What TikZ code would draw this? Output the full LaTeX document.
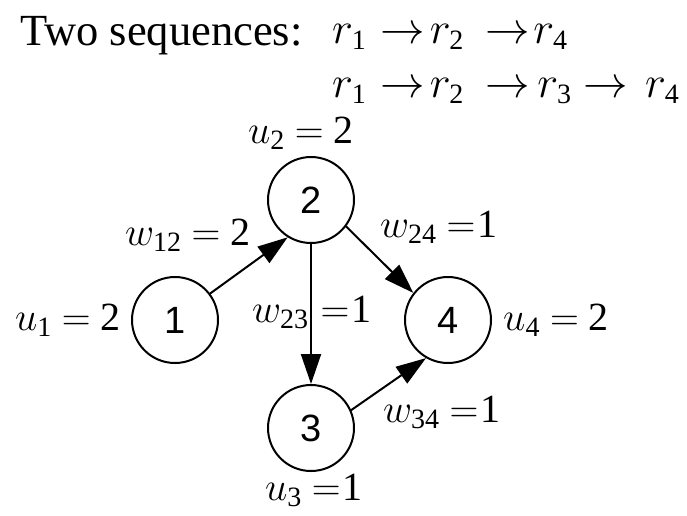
\RequirePackage{fix-cm}
\documentclass[tikz,border=0pt]{standalone}
\usepackage{fontspec}
\setmainfont{Liberation Serif}
\newfontfamily\digitfont{Liberation Sans}
\usetikzlibrary{arrows.meta}
\newcommand{\isub}[2]{$#1_{\mbox{\fontsize{28}{30}\selectfont #2}}$}

\begin{document}
\begin{tikzpicture}[x=1pt,y=-1pt,>={Triangle[length=30pt,width=20pt]},line cap=round,
  vertex/.style={draw,circle,line width=2pt,minimum size=86pt,inner sep=0pt,
    font=\digitfont\fontsize{38}{42}\selectfont},
  lbl/.style={anchor=base west,inner sep=0pt,font=\fontsize{40}{44}\selectfont},
  head/.style={anchor=base west,inner sep=0pt,font=\fontsize{44.5}{50}\selectfont},
  edge/.style={->,line width=2pt}]
\useasboundingbox (0,0) rectangle (687,515);
% the two sequences
\node[head] (title) at (20,45) {Two sequences:};
\node[head] (seqa) at (332,43) {\isub{r}{1}\hspace{14pt}$\rightarrow$\hspace{5pt}\isub{r}{2}\hspace{22pt}$\rightarrow$\hspace{3pt}\isub{r}{4}};
\node[head] (seqb) at (332,97) {\isub{r}{1}\hspace{14pt}$\rightarrow$\hspace{5pt}\isub{r}{2}\hspace{22pt}$\rightarrow$\hspace{7pt}\isub{r}{3}\hspace{12pt}$\rightarrow$\hspace{17pt}\isub{r}{4}};
% graph
\node[vertex] (n1) at (175,320) {1};
\node[vertex] (n2) at (311,200) {2};
\node[vertex] (n3) at (311,428) {3};
\node[vertex] (n4) at (448,320) {4};
\draw[edge] (n1.37) -- (n2.238);
\draw[edge] (n2.-37) -- (n4.142);
\draw[edge] (n2) -- (n3);
\draw[edge] (n3.24) -- (n4.240);
% weights
\node[lbl] (u1) at (15,330) {\isub{u}{1} $=$ 2};
\node[lbl] (u2) at (248,143) {\isub{u}{2} $=$ 2};
\node[lbl] (u3) at (265,500) {\isub{u}{3} $=$\hspace{2pt}1};
\node[lbl] (u4) at (503,330) {\isub{u}{4} $=$ 2};
\node[lbl] (w12) at (125,245) {\isub{w}{12} $=$ 2};
\node[lbl] (w24) at (380,237) {\isub{w}{24} $=$\hspace{2pt}1};
\node[lbl] (w23) at (252,322) {\isub{w}{23}\hspace{12pt}$=$\hspace{2pt}1};
\node[lbl] (w34) at (383,422) {\isub{w}{34} $=$\hspace{2pt}1};
\end{tikzpicture}
\end{document}
